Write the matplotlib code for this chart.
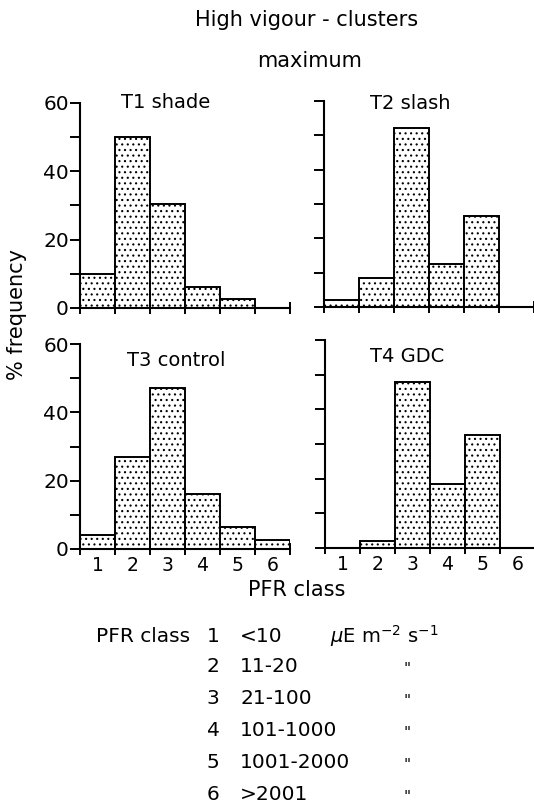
import matplotlib
matplotlib.use("Agg")
import matplotlib.pyplot as plt

# PFR classes 1..6
classes = [1, 2, 3, 4, 5, 6]
t1_shade = [10, 50, 30.5, 6, 2.5, 0]
t2_slash = [2, 8.5, 52, 12.5, 26.5, 0]
t3_control = [4, 27, 47, 16, 6.5, 2.5]
t4_gdc = [0, 2, 48, 18.5, 32.5, 0]

panel_titles = ["T1 shade", "T2 slash", "T3 control", "T4 GDC"]
range_labels = ["<10", "11-20", "21-100", "101-1000", "1001-2000", ">2001"]

plt.rcParams["font.family"] = ["DejaVu Sans"]
plt.rcParams["hatch.linewidth"] = 0.8

W, H = 534, 810
fig = plt.figure(figsize=(W / 100, H / 100), dpi=100)


def ax_at(x0, y_top, x1, y_bot):
    return fig.add_axes([x0 / W, 1 - y_bot / H, (x1 - x0) / W, (y_bot - y_top) / H])


axes = [ax_at(80, 103, 290, 308), ax_at(324, 101, 534, 307),
        ax_at(80, 344, 290, 549), ax_at(325, 340, 535, 548)]
data = [t1_shade, t2_slash, t3_control, t4_gdc]
# title anchor inside each panel (axes fraction)
title_pos = [(0.41, 1.0), (0.41, 0.99), (0.46, 0.92), (0.39, 0.92)]

for i, (ax, vals, title) in enumerate(zip(axes, data, panel_titles)):
    x = [c - 1 for c in classes]
    ax.bar(x, vals, width=1, align="edge", color="white", edgecolor="black",
           linewidth=1.4, hatch="...")
    ax.set_xlim(0, 6)
    ax.set_ylim(0, 60)
    for s in ["top", "right"]:
        ax.spines[s].set_visible(False)
    ax.spines["left"].set_linewidth(1.5)
    ax.spines["bottom"].set_linewidth(1.5)
    ax.set_yticks(range(0, 61, 10))
    if i % 2 == 0:
        ax.set_yticklabels(["0", "", "20", "", "40", "", "60"], fontsize=14.5)
    else:
        ax.set_yticklabels([])
    ax.set_xticks(range(0, 7))
    ax.set_xticklabels([])
    ax.tick_params(axis="y", direction="out", length=7, width=1.4, pad=1)
    ax.tick_params(axis="x", direction="inout", length=9, width=1.4)
    if i >= 2:
        ax.set_xticks([c - 0.5 for c in classes], minor=True)
        ax.set_xticklabels([str(c) for c in classes], minor=True, fontsize=13.5)
        ax.tick_params(axis="x", which="minor", length=0, pad=5)
    tx, ty = title_pos[i]
    ax.text(tx, ty, title, transform=ax.transAxes,
            ha="center", va="center", fontsize=14)
    ax.patch.set_alpha(0)

fig.text(307 / W, 1 - 20 / H, "High vigour - clusters", ha="center", va="center", fontsize=15)
fig.text(310 / W, 1 - 61 / H, "maximum", ha="center", va="center", fontsize=15)
fig.text(17 / W, 1 - 315 / H, "% frequency", ha="center", va="center",
         rotation=90, fontsize=15)
fig.text(297 / W, 1 - 590 / H, "PFR class", ha="center", va="center", fontsize=15)

# PFR class key
row_y = [636, 667, 699, 731, 763, 795]
fig.text(190 / W, 1 - row_y[0] / H, "PFR class", ha="right", va="center", fontsize=14.5)
for c, r, y in zip(classes, range_labels, row_y):
    fig.text(213 / W, 1 - y / H, str(c), ha="center", va="center", fontsize=14.5)
    fig.text(240 / W, 1 - y / H, r, ha="left", va="center", fontsize=14.5)
    if c == 1:
        fig.text(330 / W, 1 - y / H, r"$\mu$E m$^{-2}$ s$^{-1}$", ha="left",
                 va="center", fontsize=14)
    else:
        fig.text(407 / W, 1 - (y + 3) / H, '"', ha="center", va="center", fontsize=11)

fig.savefig("out.png", dpi=100)
